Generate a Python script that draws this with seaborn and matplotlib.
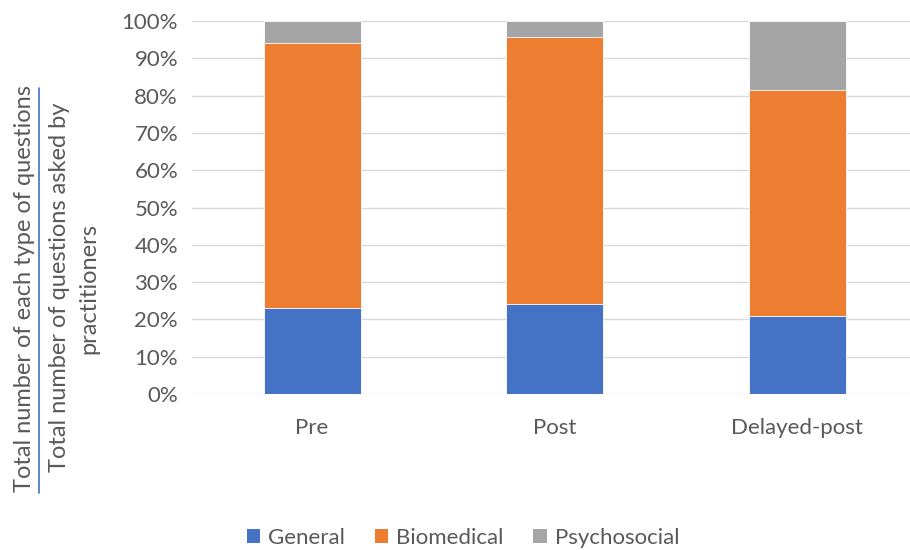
import numpy as np
import pandas as pd
import matplotlib
matplotlib.use("Agg")
import matplotlib.pyplot as plt
from matplotlib.patches import Patch
from matplotlib.lines import Line2D
import seaborn as sns

# Share of each question type per session (percent)
sessions = ["Pre", "Post", "Delayed-post"]
general = [23.0, 24.2, 20.8]
biomedical = [71.0, 71.6, 60.6]
psychosocial = [6.0, 4.2, 18.6]
series_names = ["General", "Biomedical", "Psychosocial"]
y_ticks = [0, 10, 20, 30, 40, 50, 60, 70, 80, 90, 100]

colors = {"General": "#4472C4", "Biomedical": "#ED7D31", "Psychosocial": "#A5A5A5"}
text_color = "#595959"
font = "Lato"

sns.set_theme(style="white")
plt.rcParams["font.family"] = [font, "DejaVu Sans"]

fig = plt.figure(figsize=(9.1, 5.5), dpi=100)
ax = fig.add_axes([192 / 910, 1 - 394 / 550, 718 / 910, 373 / 550])

df = pd.DataFrame({
    "session": sessions,
    "General": general,
    "Biomedical": biomedical,
    "Psychosocial": psychosocial,
})
# stacked layers: draw cumulative tops from the highest down
df["lvl_gen"] = df["General"]
df["lvl_bio"] = df["General"] + df["Biomedical"]
df["lvl_psy"] = df["lvl_bio"] + df["Psychosocial"]

for col, name in [("lvl_psy", "Psychosocial"), ("lvl_bio", "Biomedical"), ("lvl_gen", "General")]:
    sns.barplot(data=df, x="session", y=col, color=colors[name], width=0.4,
                saturation=1, edgecolor="#FFFFFF", linewidth=0.6, ax=ax, zorder=3)

ax.set_ylim(0, 100)
ax.set_xlim(-0.495, -0.495 + 718 / 242.5)
ax.set_yticks(y_ticks)
ax.set_yticklabels([f"{t}%" for t in y_ticks])
ax.yaxis.grid(True, color="#D9D9D9", linewidth=1.0, zorder=0)
ax.set_axisbelow(True)
for s in ax.spines.values():
    s.set_visible(False)
ax.tick_params(axis="both", length=0, colors=text_color, labelsize=16)
ax.tick_params(axis="y", pad=10)
ax.tick_params(axis="x", pad=17)
ax.set_xlabel("")
ax.set_ylabel("")

# fraction-style y-axis label
fs = 17
fig.text(25 / 910, 1 - 288 / 550, "Total number of each type of questions", rotation=90,
         ha="center", va="center", color=text_color, fontsize=fs)
fig.add_artist(Line2D([39 / 910, 39 / 910], [1 - 88 / 550, 1 - 493 / 550],
                      transform=fig.transFigure, color="#4472C4", linewidth=1.2))
fig.text(59 / 910, 1 - 287 / 550, "Total number of questions asked by", rotation=90,
         ha="center", va="center", color=text_color, fontsize=fs)
fig.text(89 / 910, 1 - 288 / 550, "practitioners", rotation=90,
         ha="center", va="center", color=text_color, fontsize=fs)

handles = [Patch(facecolor=colors[n], edgecolor="none", label=n) for n in series_names]
leg = fig.legend(handles=handles, loc="center", bbox_to_anchor=(463 / 910, 1 - 538 / 550),
                 ncol=3, frameon=False, fontsize=16, handlelength=0.6, handleheight=0.6,
                 handletextpad=0.35, columnspacing=1.35)
for t in leg.get_texts():
    t.set_color(text_color)

fig.savefig("out.png", dpi=100)
